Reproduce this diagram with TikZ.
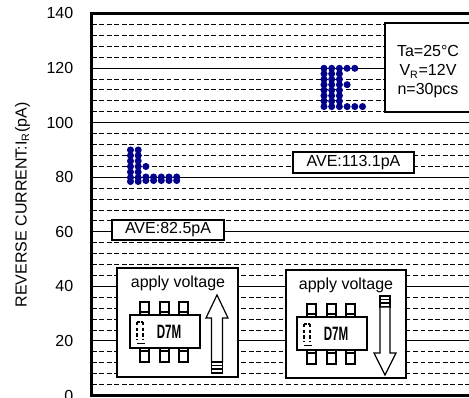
\documentclass[tikz,border=0pt]{standalone}
\usepackage{fontspec}
\setmainfont{Liberation Sans}
\definecolor{dotblue}{RGB}{0,0,139}
\begin{document}
\begin{tikzpicture}[x=0.75pt,y=-0.75pt,
  txt/.style={font=\fontsize{12}{14.4}\selectfont, inner sep=0pt},
  griddash/.style={line width=0.6pt, dash pattern=on 3.6pt off 2pt},
  gridsolid/.style={line width=0.75pt},
  frameline/.style={line width=1.7pt},
  boxline/.style={draw, fill=white, line width=1.5pt},
  avebox/.style={draw, fill=white, line width=1.3pt, inner sep=0pt, font=\fontsize{12}{14.4}\selectfont},
  chipline/.style={line width=0.9pt},
  arrowline/.style={line width=0.9pt, fill=white},
  chip/.pic={
    \foreach \px in {23,43,62} {
      \draw[chipline, fill=white] (\px,34) rectangle ++(9,13);
      \draw[chipline] (\px,44) -- ++(9,0);
      \draw[chipline, fill=white] (\px,80) rectangle ++(9,14);
      \draw[chipline] (\px,83) -- ++(9,0);
    }
    \draw[chipline, fill=white] (13,47) rectangle (83,80);
    \draw[chipline] (20,54) -- (22.5,54) (23.5,54) -- (26,54);
    \draw[chipline, dash pattern=on 2.6pt off 1.6pt] (20,54) -- (20,72) (26,54) -- (26,72);
    \draw[chipline] (20,75.5) -- (28,75.5);
    \node[inner sep=0pt] at (52,63.5) {\scalebox{0.6}[1]{\fontsize{14.5}{14.5}\selectfont\bfseries D7M}};
  },
]
\useasboundingbox (0,0) rectangle (469,398);

% grid lines
\foreach \v in {4,8,12,16,24,28,32,36,44,48,52,56,64,68,72,76,84,88,92,96,104,108,112,116,124,128,132,136}
  \draw[griddash] (92,{395.5-\v*2.7286}) -- (480,{395.5-\v*2.7286});
\foreach \v in {20,40,60,80,100,120}
  \draw[gridsolid] (92,{395.5-\v*2.7286}) -- (480,{395.5-\v*2.7286});

% frame
\draw[frameline] (480,13.5) -- (91.5,13.5) -- (91.5,395.5) -- (480,395.5);

% tick labels
\foreach \v in {0,20,40,60,80,100,120,140}
  \node[txt, anchor=east] (tick\v) at (73.5,{395.5-\v*2.7286}) {\v};

% axis title
\node[txt, rotate=90] (ylabel) at (22.5,205) {REVERSE CURRENT:I\textsubscript{R}(pA)};

% left dot cluster
\foreach \yy in {150,155.5,161,166.5,172,177.5,181.5}
  \foreach \xx in {130.5,138.2}
    \fill[dotblue] (\xx,\yy) circle[radius=2.65pt];
\fill[dotblue] (145.9,166.5) circle[radius=2.65pt];
\foreach \xx in {145.9,153.6,161.3,169,176.7}
  \foreach \yy in {177,180.5}
    \fill[dotblue] (\xx,\yy) circle[radius=2.65pt];

% right dot cluster
\foreach \yy/\n in {68.3/5,73.8/3,79.3/3,84.7/4,90.2/3,95.7/3,101.1/3,106.6/6}
  \foreach \i in {1,...,\n}
    \fill[dotblue] ({324+(\i-1)*7.7},\yy) circle[radius=2.65pt];

% condition box
\draw[boxline] (385,22.7) rectangle (482,112);
\node[txt] (cond1) at (428,51) {Ta=25°C};
\node[txt] (cond2) at (428,71.5) {V\textsubscript{R}=12V};
\node[txt] (cond3) at (428,90.5) {n=30pcs};

% average boxes
\node[avebox, minimum width=84pt, minimum height=15pt] (ave1) at (168,230) {AVE:82.5pA};
\node[avebox, minimum width=90.75pt, minimum height=15.75pt] (ave2) at (353.5,162.5) {AVE:113.1pA};

% left apply box
\draw[boxline] (117,268) rectangle (238,377);
\node[txt] (app1) at (178,283.3) {apply voltage};
\pic at (117,268) {chip};
\draw[arrowline] (217,295) -- (228,318) -- (222.5,318) -- (222.5,362) -- (211.5,362) -- (211.5,318) -- (206,318) -- cycle;
\draw[arrowline] (211.5,362) rectangle (222.5,373);
\draw[line width=1.2pt] (211.5,365.5) -- (222.5,365.5) (211.5,369.2) -- (222.5,369.2);

% right apply box
\draw[boxline] (286,270) rectangle (406,378);
\node[txt] (app2) at (346,285) {apply voltage};
\pic at (284,270) {chip};
\draw[arrowline] (380,296) rectangle (390,307);
\draw[line width=1.2pt] (380,299.5) -- (390,299.5) (380,303.2) -- (390,303.2);
\draw[arrowline] (380,307) -- (390,307) -- (390,353) -- (396,353) -- (385,375) -- (374,353) -- (380,353) -- cycle;
\end{tikzpicture}
\end{document}
